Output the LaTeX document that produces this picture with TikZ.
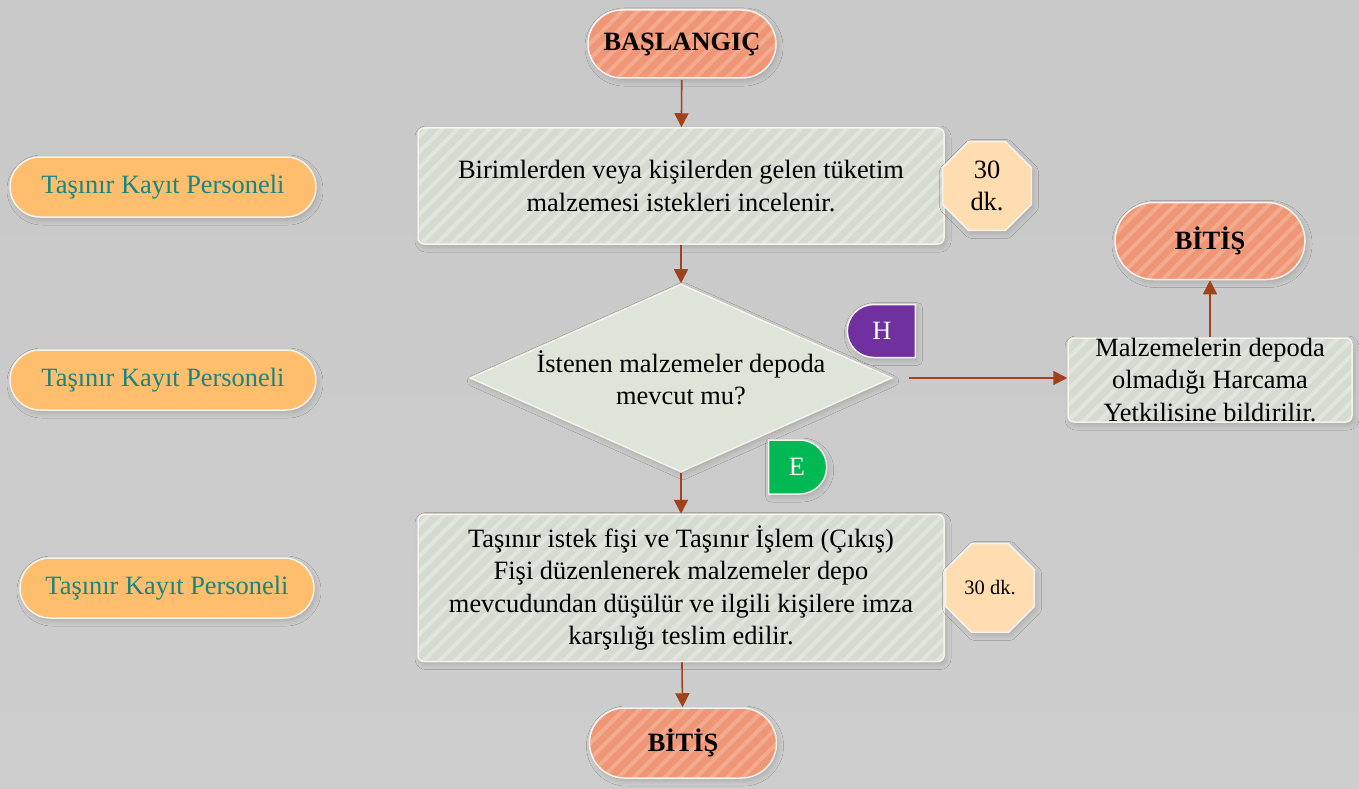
\documentclass[tikz,border=0pt]{standalone}
\usepackage{fontspec}
\setmainfont{Liberation Serif}
\usetikzlibrary{shapes.geometric,shapes.misc,arrows.meta,patterns.meta,shadows.blur}
\definecolor{bgtop}{RGB}{200,200,200}
\definecolor{bgmid}{RGB}{220,220,220}
\definecolor{bgbot}{RGB}{205,205,205}
\definecolor{salmon}{RGB}{239,150,118}
\definecolor{salmonstripe}{RGB}{244,170,142}
\definecolor{boxfill}{RGB}{214,219,209}
\definecolor{boxstripe}{RGB}{225,229,221}
\definecolor{diafill}{RGB}{222,228,216}
\definecolor{pillfill}{RGB}{255,189,110}
\definecolor{octfill}{RGB}{255,221,176}
\definecolor{tealtext}{RGB}{22,134,128}
\definecolor{hpurple}{RGB}{112,48,160}
\definecolor{egreen}{RGB}{0,184,84}
\definecolor{arrowc}{RGB}{160,66,28}
\definecolor{edge}{RGB}{246,242,236}
\begin{document}
\begin{tikzpicture}[x=1pt,y=-1pt,
  base/.style={font=\fontsize{26.4}{32.5}\selectfont, inner sep=0pt, align=center},
  shad/.style={blur shadow={shadow xshift=2pt, shadow yshift=-3pt, shadow blur radius=5pt, shadow opacity=16}},
  terminal/.style={base, shad, rounded rectangle, draw=edge, line width=1.5pt,
    preaction={fill=salmon}, pattern={Lines[angle=45,distance=11pt,line width=4pt]}, pattern color=salmonstripe,
    font=\bfseries\fontsize{26.4}{32.5}\selectfont},
  procbox/.style={base, shad, rectangle, rounded corners=6pt, draw=edge, line width=1.5pt,
    preaction={fill=boxfill}, pattern={Lines[angle=45,distance=11pt,line width=4pt]}, pattern color=boxstripe},
  decision/.style={base, shad, diamond, draw=edge, line width=1.5pt, fill=diafill},
  pill/.style={base, shad, rounded rectangle, draw=edge, line width=1.5pt, fill=pillfill, text=tealtext,
    minimum height=60pt},
  octa/.style={base, shad, regular polygon, regular polygon sides=8, draw=edge, line width=1.5pt,
    fill=octfill, minimum size=96pt},
  tagbox/.style={base, shad, rounded rectangle, draw=edge, line width=1.5pt, text=white},
  arr/.style={draw=arrowc, line width=1.6pt, -{Triangle[width=14pt,length=14pt]}}
]
\shade[top color=bgtop, middle color=bgmid, bottom color=bgbot] (0,0) rectangle (1359,789);
\useasboundingbox (0,0) rectangle (1359,789);

% left role pills
\node[pill, minimum width=306pt] (p1) at (163,187) {Taşınır Kayıt Personeli};
\node[pill, minimum width=306pt] (p2) at (163,380) {Taşınır Kayıt Personeli};
\node[pill, minimum width=294pt] (p3) at (167,588) {Taşınır Kayıt Personeli};

% main flow
\node[terminal, minimum width=188pt, minimum height=68pt] (start) at (682,44) {BAŞLANGIÇ};
\node[procbox, minimum width=526pt, minimum height=116pt] (b1) at (681,186)
  {Birimlerden veya kişilerden gelen tüketim\\malzemesi istekleri incelenir.};
\node[octa] (o1) at (987,186) {30\\dk.};
\node[decision, minimum width=422pt, minimum height=188pt,
  label={[base]center:{İstenen malzemeler depoda\\mevcut mu?}}] (dia) at (681,378) {};
\node[tagbox, fill=hpurple, rounded rectangle right arc=none, minimum width=68pt, minimum height=53pt] (h) at (882,331) {H};
\node[tagbox, fill=egreen, rounded rectangle left arc=none, minimum width=58pt, minimum height=54pt] (e) at (797,467) {E};
\node[procbox, minimum width=284pt, minimum height=84pt,
  label={[base]center:{Malzemelerin depoda\\olmadığı Harcama\\Yetkilisine bildirilir.}}] (rb) at (1210,380) {};
\node[terminal, minimum width=190pt, minimum height=77pt] (end1) at (1210,241) {BİTİŞ};
\node[procbox, minimum width=526pt, minimum height=147pt] (b3) at (681,588)
  {Taşınır istek fişi ve Taşınır İşlem (Çıkış)\\Fişi düzenlenerek malzemeler depo\\mevcudundan düşülür ve ilgili kişilere imza\\karşılığı teslim edilir.};
\node[octa, font=\fontsize{20.5}{24}\selectfont] (o2) at (990,588) {30 dk.};
\node[terminal, minimum width=187pt, minimum height=70pt] (end2) at (683,743) {BİTİŞ};

% connectors
\draw[arr] (start) -- (b1);
\draw[arr] (b1) -- (dia);
\draw[arr] (dia) -- (b3);
\draw[arr] (b3) -- (end2);
\draw[arr, shorten <=16pt] (dia.east) -- (dia.east -| rb.west);
\draw[arr] (rb.north) -- (end1.south);
\end{tikzpicture}
\end{document}
